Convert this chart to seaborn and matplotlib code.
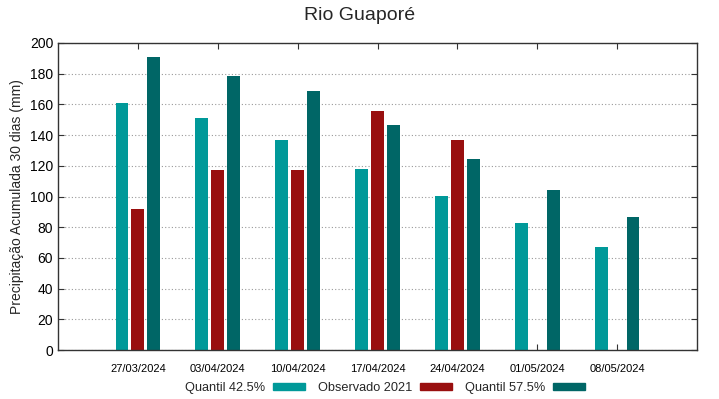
import numpy as np
import pandas as pd
import matplotlib
matplotlib.use("Agg")
import matplotlib.pyplot as plt
import seaborn as sns
from matplotlib.patches import Patch

dates = ["27/03/2024", "03/04/2024", "10/04/2024", "17/04/2024",
         "24/04/2024", "01/05/2024", "08/05/2024"]
quantil_425 = [161, 151, 137, 118, 100.5, 83, 67]
observado_2021 = [92, 117, 117.5, 156, 137, np.nan, np.nan]
quantil_575 = [191, 178.5, 169, 146.5, 124.5, 104, 86.5]
series_names = ["Quantil 42.5%", "Observado 2021", "Quantil 57.5%"]
colors = ["#009999", "#990f0f", "#006666"]

df = pd.DataFrame({
    "date": dates * 3,
    "serie": [series_names[0]] * 7 + [series_names[1]] * 7 + [series_names[2]] * 7,
    "valor": quantil_425 + observado_2021 + quantil_575,
})

sns.set_style("white")
plt.rcParams["font.family"] = ["Liberation Sans", "DejaVu Sans"]

fig = plt.figure(figsize=(7.19, 3.99), dpi=100)
ax = fig.add_axes([58 / 719, 1 - 350 / 399, (697 - 58) / 719, (350 - 43) / 399])

sns.barplot(data=df, x="date", y="valor", hue="serie", hue_order=series_names,
            order=dates, palette=colors, width=0.6, gap=0.2, dodge=True,
            saturation=1, ax=ax, legend=False, linewidth=0)

ax.set_xlim(-1, 7)
ax.set_ylim(0, 200)
ax.set_yticks(range(0, 201, 20))
ax.set_xticks(range(7))
ax.set_xticklabels(dates, fontsize=8)
ax.tick_params(axis="y", labelsize=10)
ax.tick_params(direction="in", length=4, width=0.8, top=True, right=True,
               bottom=True, left=True, colors="#333333", labelcolor="black")
ax.tick_params(axis="x", pad=10)
ax.yaxis.grid(True, linestyle=(0, (1, 2)), color="#999999", linewidth=0.8)
ax.set_axisbelow(True)
for s in ax.spines.values():
    s.set_color("#333333")
    s.set_linewidth(1.0)
ax.set_xlabel("")
ax.set_ylabel("Precipitação Acumulada 30 dias (mm)", fontsize=10)
fig.text(0.5, 1 - 16 / 399, "Rio Guaporé", ha="center", va="center", fontsize=14)

handles = [Patch(facecolor=c, edgecolor=c) for c in colors]
fig.legend(handles, series_names, loc="center", bbox_to_anchor=(385 / 719, 1 - 388 / 399),
           ncol=3, frameon=False, markerfirst=False, fontsize=9.2,
           handlelength=2.5, handleheight=0.45, handletextpad=0.6, columnspacing=1.0)

fig.savefig("out.png", dpi=100)
